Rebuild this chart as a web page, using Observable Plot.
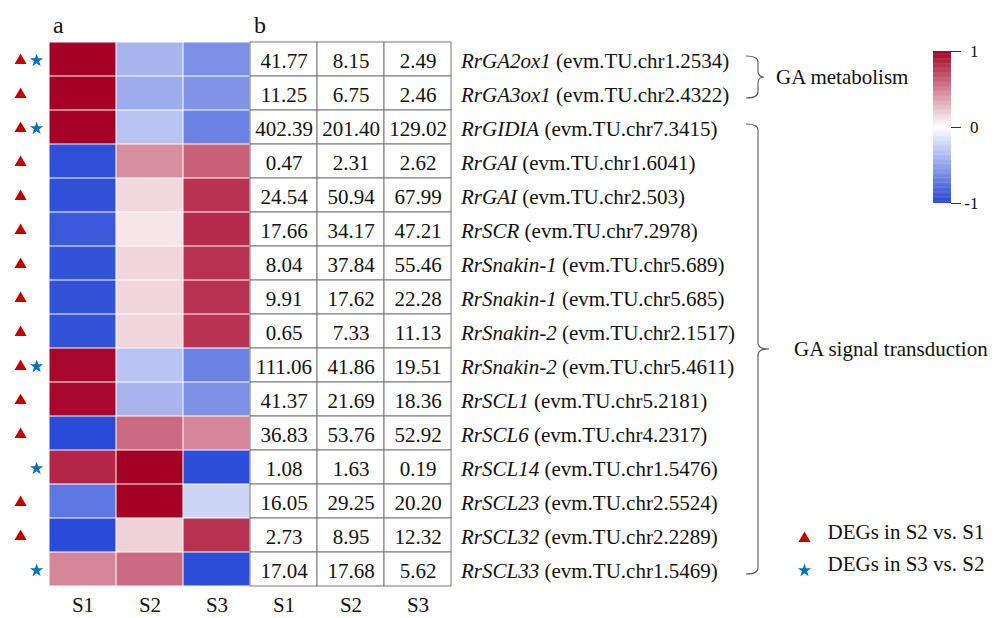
<!DOCTYPE html>
<html>
<head>
<meta charset="utf-8">
<script src="https://cdn.jsdelivr.net/npm/d3@7"></script>
<script src="https://cdn.jsdelivr.net/npm/@observablehq/plot@0.6"></script>
<style>
  body { margin: 0; background: #fff; }
  #fig { position: relative; width: 996px; height: 618px; background: #fff; }
  #fig svg { position: absolute; top: 0; left: 0; }
  #fig svg.ramp { left: 933px; top: 40px; }
  #fig svg text { font-family: 'Liberation Serif', 'Times New Roman', serif; }
</style>
</head>
<body>
<div id="fig"></div>
<script>
// Genes of the GA metabolism and GA signalling pathways
const genes = ["RrGA2ox1","RrGA3ox1","RrGIDIA","RrGAI","RrGAI","RrSCR","RrSnakin-1","RrSnakin-1",
  "RrSnakin-2","RrSnakin-2","RrSCL1","RrSCL6","RrSCL14","RrSCL23","RrSCL32","RrSCL33"];
const geneIds = ["evm.TU.chr1.2534","evm.TU.chr2.4322","evm.TU.chr7.3415","evm.TU.chr1.6041",
  "evm.TU.chr2.503","evm.TU.chr7.2978","evm.TU.chr5.689","evm.TU.chr5.685","evm.TU.chr2.1517",
  "evm.TU.chr5.4611","evm.TU.chr5.2181","evm.TU.chr4.2317","evm.TU.chr1.5476","evm.TU.chr2.5524",
  "evm.TU.chr2.2289","evm.TU.chr1.5469"];
const stages = ["S1","S2","S3"];

// Expression values (table b)
const exprS1 = [41.77,11.25,402.39,0.47,24.54,17.66,8.04,9.91,0.65,111.06,41.37,36.83,1.08,16.05,2.73,17.04];
const exprS2 = [8.15,6.75,201.40,2.31,50.94,34.17,37.84,17.62,7.33,41.86,21.69,53.76,1.63,29.25,8.95,17.68];
const exprS3 = [2.49,2.46,129.02,2.62,67.99,47.21,55.46,22.28,11.13,19.51,18.36,52.92,0.19,20.20,12.32,5.62];

// Row-scaled expression (heatmap a)
const heatS1 = [1,1,1,-0.95,-0.95,-0.9,-0.94,-0.94,-0.94,0.97,0.97,-0.98,0.85,-0.74,-0.98,0.48];
const heatS2 = [-0.4,-0.45,-0.32,0.44,0.15,0.1,0.16,0.16,0.16,-0.32,-0.4,0.58,1,1,0.18,0.58];
const heatS3 = [-0.6,-0.58,-0.68,0.62,0.8,0.83,0.8,0.8,0.8,-0.68,-0.6,0.48,-0.97,-0.23,0.8,-0.97];

// Colour-bar ticks
const rampTicks = [-1, 0, 1];

// Differentially expressed genes
const degS2vsS1 = [1,1,1,1,1,1,1,1,1,1,1,1,0,1,1,0];
const degS3vsS2 = [1,0,1,0,0,0,0,0,0,1,0,0,1,0,0,1];

// Pathway groups (first and last row of each)
const groups = [
  {name: "GA metabolism", first: 0, last: 1},
  {name: "GA signal transduction", first: 2, last: 15}
];

const legendItems = [
  {label: "DEGs in S2 vs. S1", symbol: "triangle", color: "#c00000"},
  {label: "DEGs in S3 vs. S2", symbol: "star", color: "#0070c0"}
];

const font = "'Liberation Serif', 'Times New Roman', serif";
const rows = d3.range(genes.length);
const columns = [...stages.map(s => "a" + s), ...stages.map(s => "b" + s)];
const heat = rows.flatMap(i => [heatS1[i], heatS2[i], heatS3[i]]
  .map((v, j) => ({row: i, col: "a" + stages[j], value: v})));
const table = rows.flatMap(i => [exprS1[i], exprS2[i], exprS3[i]]
  .map((v, j) => ({row: i, col: "b" + stages[j], value: v})));
const labels = rows.map(i => ({row: i, gene: genes[i], id: geneIds[i]}));

const colorScale = {type: "linear", domain: [-1, 0, 1],
  range: ["#2547d6", "#ffffff", "#a50026"], interpolate: "rgb", clamp: true};

// Curly braces and pathway names to the right of the gene labels
function braces(...args) {
  const scales = args.find(a => a && typeof a.y === "function" && typeof a.x === "function");
  const x = scales.x, y = scales.y;
  const bw = y(1) - y(0);
  const xbw = x("bS3") - x("bS2");
  const right = x("bS3") + xbw;
  const g = d3.create("svg:g");
  groups.forEach((grp, k) => {
    const yA = y(grp.first) + bw / 2 - 3;
    const yB = y(grp.last) + bw / 2 + 5;
    const ym = (yA + yB) / 2;
    const x0 = right + 295, x1 = x0 + 12;
    const xt = x1 + ((yB - yA) > 100 ? 11 : 6);
    const r = 6;
    const p = d3.path();
    p.moveTo(x0, yA);
    p.quadraticCurveTo(x1, yA, x1, yA + r);
    p.lineTo(x1, ym - r);
    p.quadraticCurveTo(x1, ym, xt, ym);
    p.quadraticCurveTo(x1, ym, x1, ym + r);
    p.lineTo(x1, yB - r);
    p.quadraticCurveTo(x1, yB, x0, yB);
    g.append("path").attr("d", p.toString()).attr("fill", "none")
      .attr("stroke", "#555").attr("stroke-width", 1.1);
    g.append("text").attr("x", xt + (k === 0 ? 12 : 25)).attr("y", ym)
      .attr("dy", "0.32em").attr("text-anchor", "start").attr("font-family", font)
      .attr("font-size", 21).attr("fill", "#111").text(grp.name);
  });
  return g.node();
}

const main = Plot.plot({
  width: 996,
  height: 618,
  marginLeft: 46,
  marginRight: 543,
  marginTop: 40,
  marginBottom: 30,
  style: {fontFamily: font, fontSize: "21px", color: "#111", background: "transparent", overflow: "visible"},
  x: {type: "band", domain: columns, padding: 0},
  y: {type: "band", domain: rows, padding: 0, axis: null},
  color: colorScale,
  marks: [
    // heatmap (a)
    Plot.cell(heat, {x: "col", y: "row", fill: "value", inset: 0.5}),
    // table (b)
    Plot.cell(table, {x: "col", y: "row", fill: "white", stroke: "#777", strokeWidth: 1}),
    Plot.text(table, {x: "col", y: "row", text: d => d.value.toFixed(2), dy: 2, fontSize: 21,
      fontFamily: font, fill: "#111"}),
    // gene names with transcript ids
    Plot.text(labels, {
      x: () => "bS3", y: "row", text: d => d.gene, dx: 43, dy: 2, textAnchor: "start", fontSize: 21,
      fontFamily: font, fill: "#111",
      render(index, scales, values, dimensions, context, next) {
        const g = next(index, scales, values, dimensions, context);
        d3.select(g).selectAll("text").each(function(d, k) {
          const i = typeof d === "number" ? d : index[k];
          const t = d3.select(this);
          t.text(null);
          t.append("tspan").attr("font-style", "italic").text(labels[i].gene);
          t.append("tspan").text(" (" + labels[i].id + ")");
        });
        return g;
      }
    }),
    // DEG markers
    Plot.dot(rows.filter(i => degS2vsS1[i]), {x: () => "aS1", y: d => d, symbol: "triangle", r: 4.5,
      fill: legendItems[0].color, stroke: null, dx: -62.4, dy: 1}),
    Plot.dot(rows.filter(i => degS3vsS2[i]), {x: () => "aS1", y: d => d, symbol: "star", r: 4.2,
      fill: legendItems[1].color, stroke: null, dx: -46.4, dy: 1}),
    // panel letters
    Plot.text([{col: "aS1", t: "a"}, {col: "bS1", t: "b"}], {x: "col", text: "t", frameAnchor: "top",
      lineAnchor: "bottom", dx: -29.9, dy: -8, textAnchor: "start", fontSize: 24, fontFamily: font, fill: "#111"}),
    // stage labels
    Plot.axisX({anchor: "bottom", tickSize: 0, tickPadding: 9, tickFormat: d => d.slice(1), fontSize: 21,
      fontFamily: font, label: null}),
    braces,
    // symbol legend
    ...legendItems.flatMap((item, k) => [
      Plot.dot([item], {frameAnchor: "bottom-left", symbol: item.symbol, r: item.symbol === "star" ? 4.2 : 4.5,
        fill: item.color, stroke: null, dx: 758, dy: k === 0 ? -50 : -18}),
      Plot.text([item], {frameAnchor: "bottom-left", text: "label", textAnchor: "start",
        dx: 781, dy: k === 0 ? -50 : -18, fontSize: 21, fontFamily: font, fill: "#111"})
    ])
  ]
});

// colour bar for the heatmap values: bar, tick lines and labels
const ramp = Plot.plot({
  width: 60,
  height: 175,
  marginLeft: 0,
  marginRight: 42,
  marginTop: 11,
  marginBottom: 12,
  style: {fontFamily: font, fontSize: "17px", color: "#111", background: "transparent", overflow: "visible"},
  x: {domain: [0, 1], axis: null},
  y: {domain: [-1, 1], axis: null},
  color: colorScale,
  marks: [
    Plot.rect(d3.range(120), {x1: 0, x2: 1,
      y1: i => -1 + i * 2 / 120, y2: i => Math.min(1, -1 + (i + 1.3) * 2 / 120),
      fill: i => -1 + (i + 0.5) * 2 / 120}),
    Plot.tickY(rampTicks, {y: d => d, frameAnchor: "right", stroke: "#333", strokeWidth: 1,
      render(index, scales, values, dimensions, context, next) {
        const g = next(index, scales, values, dimensions, context);
        const xr = dimensions.width - dimensions.marginRight;
        d3.select(g).selectAll("line").attr("x1", xr).attr("x2", xr + 10);
        return g;
      }}),
    Plot.text(rampTicks, {y: d => d, text: d => String(d), frameAnchor: "right", textAnchor: "end",
      dx: 27, fontSize: 17, fontFamily: font, fill: "#111"})
  ]
});
ramp.classList.add("ramp");

const fig = document.getElementById("fig");
fig.append(main, ramp);
</script>
</body>
</html>
